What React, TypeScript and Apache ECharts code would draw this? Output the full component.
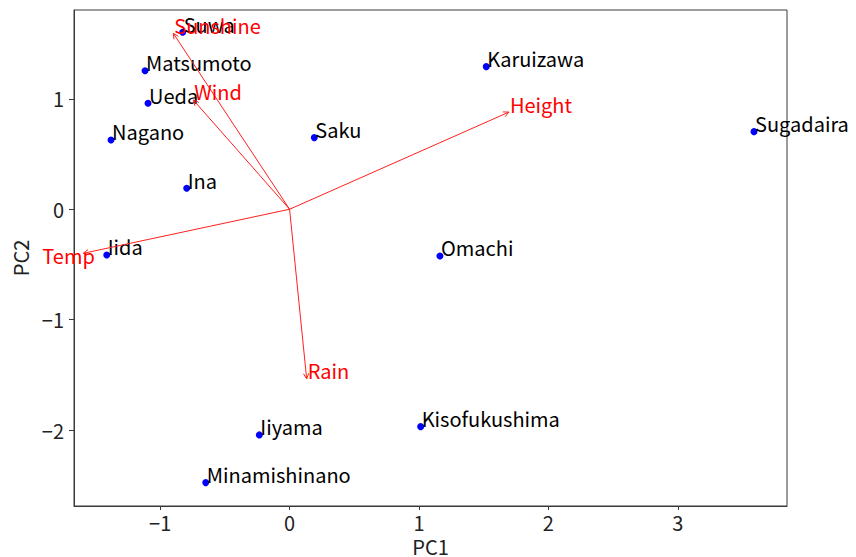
import React, { useEffect, useRef } from "react";
import * as echarts from "echarts";

const cities = ["Suwa", "Matsumoto", "Ueda", "Nagano", "Saku", "Ina", "Iida", "Karuizawa", "Sugadaira", "Omachi", "Iiyama", "Kisofukushima", "Minamishinano"];
const pc1 = [-0.826, -1.117, -1.094, -1.38, 0.191, -0.795, -1.413, 1.52, 3.589, 1.162, -0.234, 1.013, -0.648];
const pc2 = [1.603, 1.255, 0.96, 0.628, 0.649, 0.19, -0.414, 1.292, 0.703, -0.423, -2.044, -1.969, -2.476];

const variables = ["Sunshine", "Wind", "Height", "Temp", "Rain"];
const loadX = [-0.899, -0.744, 1.695, -1.594, 0.132];
const loadY = [1.594, 0.99, 0.88, -0.399, -1.537];

const xTicks = [-1, 0, 1, 2, 3];
const yTicks = [-2, -1, 0, 1];

const FONT = "'Noto Sans CJK JP', 'Noto Sans', sans-serif";
const labelOffsets: Record<string, [number, number]> = { Temp: [-41, 10] };

const fmt = (v: number) => (v < 0 ? "\u2212" + Math.abs(v) : String(v));

export default function App() {
  const ref = useRef<HTMLDivElement>(null);
  useEffect(() => {
    if (!ref.current) return;
    const chart = echarts.init(ref.current, undefined, { renderer: "svg" });
    const LABEL_FS = 20;
    chart.setOption({
      animation: false,
      grid: { left: 74, right: 69, top: 10, bottom: 51, show: true, borderColor: "#3a3a3a", borderWidth: 1, outerBoundsMode: "none" },
      xAxis: {
        type: "value",
        min: -1.666,
        max: 3.844,
        splitLine: { show: false },
        axisLine: { show: true, onZero: false, lineStyle: { color: "#3a3a3a" } },
        axisTick: { show: true, inside: false, length: 4, customValues: xTicks, lineStyle: { color: "#3a3a3a" } },
        axisLabel: { customValues: xTicks, formatter: fmt, fontFamily: FONT, fontSize: 20, lineHeight: 20, color: "#222", margin: 6 },
        name: "PC1",
        nameLocation: "middle",
        nameGap: 28,
        nameTextStyle: { fontFamily: FONT, fontSize: 20, lineHeight: 20, color: "#222" },
      },
      yAxis: {
        type: "value",
        min: -2.688,
        max: 1.805,
        splitLine: { show: false },
        axisLine: { show: true, onZero: false, lineStyle: { color: "#3a3a3a" } },
        axisTick: { show: true, inside: false, length: 5, customValues: yTicks, lineStyle: { color: "#3a3a3a" } },
        axisLabel: { customValues: yTicks, formatter: fmt, fontFamily: FONT, fontSize: 20, color: "#222", margin: 10 },
        name: "PC2",
        nameLocation: "middle",
        nameGap: 42,
        nameRotate: 90,
        nameTextStyle: { fontFamily: FONT, fontSize: 20, color: "#222" },
      },
      series: [
        {
          type: "custom",
          clip: false,
          data: variables.map((n, i) => [loadX[i], loadY[i], n]),
          renderItem: (params: any, api: any) => {
            const o = api.coord([0, 0]);
            const t = api.coord([api.value(0), api.value(1)]);
            const name = variables[params.dataIndex];
            const ang = Math.atan2(t[1] - o[1], t[0] - o[0]);
            const hl = 6;
            const a1 = ang + Math.PI - 0.45;
            const a2 = ang + Math.PI + 0.45;
            const off = labelOffsets[name] || [1, 0];
            return {
              type: "group",
              children: [
                { type: "line", shape: { x1: o[0], y1: o[1], x2: t[0], y2: t[1] }, style: { stroke: "#ff2020", lineWidth: 1 } },
                {
                  type: "polyline",
                  shape: { points: [[t[0] + hl * Math.cos(a1), t[1] + hl * Math.sin(a1)], [t[0], t[1]], [t[0] + hl * Math.cos(a2), t[1] + hl * Math.sin(a2)]] },
                  style: { stroke: "#ff2020", lineWidth: 1, fill: "none" },
                },
                {
                  type: "text",
                  x: t[0] + off[0],
                  y: t[1] + off[1] - 8,
                  style: { text: name, fill: "#ff0000", font: `${LABEL_FS}px ${FONT}`, align: "left", verticalAlign: "middle" },
                },
              ],
            };
          },
          z: 3,
        },
        {
          type: "scatter",
          data: cities.map((c, i) => ({ name: c, value: [pc1[i], pc2[i]] })),
          symbolSize: 7,
          itemStyle: { color: "#0000ff", opacity: 1 },
          label: {
            show: true,
            formatter: "{b}",
            position: [4.5, -4.5],
            align: "left",
            verticalAlign: "middle",
            fontFamily: FONT,
            fontSize: LABEL_FS,
            color: "#000",
          },
          labelLayout: { hideOverlap: false },
          z: 2,
        },
      ],
    });
    return () => chart.dispose();
  }, []);
  return <div ref={ref} style={{ position: "absolute", left: 0, top: 0, width: 856, height: 557 }} />;
}
